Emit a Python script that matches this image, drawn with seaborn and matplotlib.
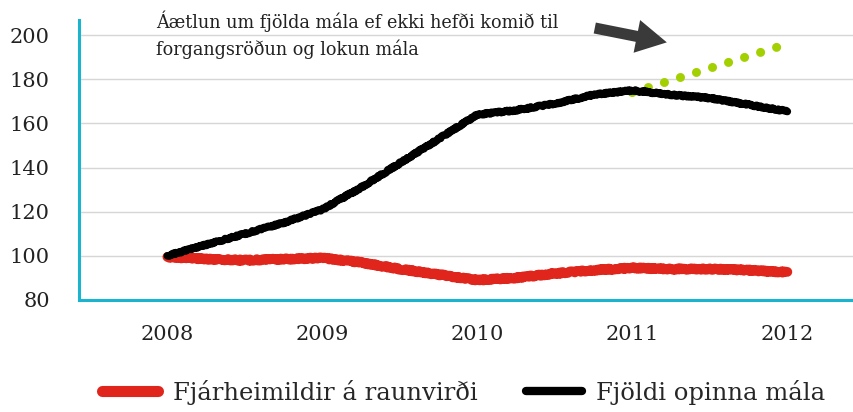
import numpy as np
import pandas as pd
import matplotlib
matplotlib.use("Agg")
import matplotlib.pyplot as plt
import seaborn as sns
from matplotlib.lines import Line2D

# data
years = [2008, 2008.25, 2008.5, 2008.75, 2009, 2009.25, 2009.5, 2009.75, 2010,
         2010.25, 2010.5, 2010.75, 2011, 2011.25, 2011.5, 2011.75, 2012]
open_cases = [100, 105, 110, 115, 121, 131, 142, 153, 164,
              166, 169, 173, 175, 173, 171.5, 168.5, 165.5]
budget_real = [99.5, 98.5, 98, 98.5, 99, 97, 94, 91.5, 89,
               90, 92, 93.5, 94.5, 94, 94, 93.5, 92.5]
plan_years = [2011, 2012]
plan_cases = [174, 196]

xticks = [2008, 2009, 2010, 2011, 2012]
yticks = [80, 100, 120, 140, 160, 180, 200]
label_budget = "Fjárheimildir á raunvirði"
label_cases = "Fjöldi opinna mála"
note = "Áætlun um fjölda mála ef ekki hefði komið til\nforgangsröðun og lokun mála"

df = pd.DataFrame({"year": years, "cases": open_cases, "budget": budget_real})

sns.set_style("white")
plt.rcParams["font.family"] = ["DejaVu Serif"]

fig = plt.figure(figsize=(8.54, 4.12), dpi=100)
ax = fig.add_axes([0.0925, 0.272, 0.9075, 0.679])

cyan = "#1ab4cf"
red = "#e0261c"
green = "#a2d000"

sns.lineplot(data=df, x="year", y="budget", ax=ax, color=red, lw=7, zorder=3)
sns.lineplot(data=df, x="year", y="cases", ax=ax, color="black", lw=5.5, zorder=3)
for ln in ax.lines:
    ln.set_sketch_params(scale=0.8, length=3, randomness=4)
    ln.set_solid_capstyle("round")

# projected cases (green dots)
ax.plot(plan_years, plan_cases, color=green, lw=6.5, linestyle=(0, (0.01, 1.85)),
        dash_capstyle="round", zorder=2)

ax.set_xlim(2007.43, 2012.43)
ax.set_ylim(80, 206.8)
ax.set_xticks(xticks)
ax.set_yticks(yticks)
ax.set_xlabel("")
ax.set_ylabel("")
ax.tick_params(axis="both", length=0, labelsize=15, colors="#222222")
ax.tick_params(axis="x", pad=18)
ax.tick_params(axis="y", pad=21)
ax.yaxis.grid(True, color="#d6d6d6", lw=1)
ax.xaxis.grid(False)
for s in ["top", "right"]:
    ax.spines[s].set_visible(False)
for s in ["left", "bottom"]:
    ax.spines[s].set_color(cyan)
    ax.spines[s].set_linewidth(2.2)

ax.text(2007.93, 211, note, fontsize=12.7, va="top", ha="left", color="#222222",
        linespacing=1.45, clip_on=False)
ax.annotate("", xy=(2011.24, 196.5), xytext=(2010.74, 203.5),
            arrowprops=dict(arrowstyle="simple,head_width=1.2,head_length=1.1,tail_width=0.4",
                            mutation_scale=20, color="#3a3a3a", lw=0))

handles = [Line2D([], [], color=red, lw=8), Line2D([], [], color="black", lw=6)]
fig.legend(handles, [label_budget, label_cases], loc="lower center",
           bbox_to_anchor=(0.543, -0.035), ncol=2, frameon=False, fontsize=17.5,
           handlelength=2.3, columnspacing=2.0, handletextpad=0.6)

fig.savefig("out.png", dpi=100)
